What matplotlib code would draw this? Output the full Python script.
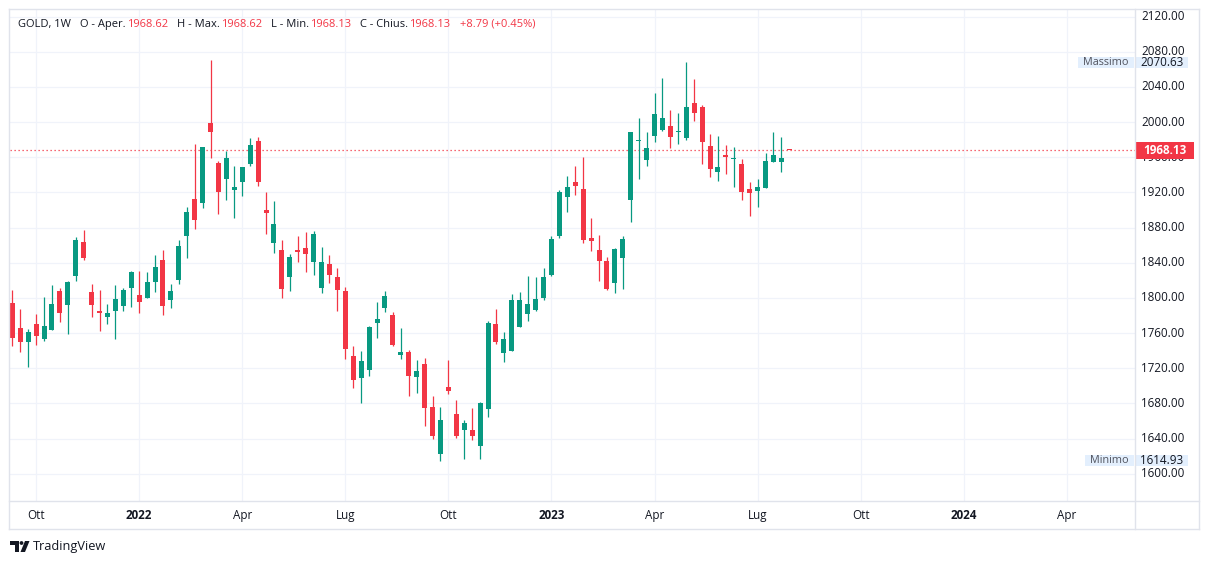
import numpy as np
import pandas as pd
import matplotlib
matplotlib.use("Agg")
import matplotlib.pyplot as plt
import matplotlib.transforms as mtransforms
from matplotlib.patches import Rectangle, Polygon, Circle
from matplotlib.lines import Line2D

plt.rcParams['font.family'] = ['Open Sans', 'DejaVu Sans']

# ---------------- data (weekly GOLD candles) ----------------
start_date = "2021-09-13"
opens = [1794.2, 1765.7, 1750.2, 1770.3, 1753.6, 1763.8, 1807.8, 1792.3, 1825.2, 1863.5,
         1806.7, 1785.1, 1778.6, 1785.4, 1791.1, 1811.6, 1803.3, 1800.2, 1818.4, 1843.0,
         1798.0, 1820.7, 1870.7, 1912.4, 1907.9, 1998.9, 1953.4, 1935.6, 1923.1, 1932.2,
         1952.6, 1978.4, 1899.9, 1862.8, 1854.4, 1824.1, 1854.8, 1856.7, 1841.2, 1811.6,
         1838.5, 1823.7, 1807.8, 1733.9, 1709.3, 1718.4, 1771.8, 1788.8, 1780.5, 1735.5,
         1738.5, 1710.5, 1724.9, 1676.0, 1623.1, 1698.7, 1668.1, 1650.3, 1649.9, 1632.1,
         1674.1, 1770.3, 1737.7, 1740.0, 1767.4, 1781.4, 1786.7, 1800.3, 1826.4, 1870.7,
         1915.0, 1932.0, 1924.1, 1868.4, 1854.8, 1842.3, 1817.3, 1845.7, 1911.7, 1978.8,
         1957.2, 1984.5, 1991.3, 1995.5, 1989.0, 1981.8, 2021.6, 2017.1, 1972.7, 1943.5,
         1962.5, 1957.5, 1952.2, 1923.8, 1921.9, 1925.3, 1954.9, 1954.9, 1968.62]
highs = [1808.9, 1787.3, 1764.2, 1781.6, 1801.0, 1814.6, 1810.8, 1819.2, 1869.2, 1877.2,
         1815.8, 1808.9, 1793.0, 1814.6, 1811.6, 1830.6, 1830.6, 1829.4, 1848.7, 1854.4,
         1815.8, 1865.8, 1903.3, 1975.0, 1971.6, 2070.63, 1955.3, 1967.0, 1950.0, 1948.8,
         1981.8, 1983.0, 1920.4, 1910.2, 1865.8, 1849.9, 1870.4, 1874.9, 1876.0, 1857.8,
         1848.7, 1834.0, 1812.4, 1745.3, 1739.6, 1767.6, 1795.2, 1807.7, 1783.9, 1766.1,
         1740.7, 1729.4, 1731.7, 1688.5, 1676.0, 1729.4, 1684.0, 1661.3, 1674.9, 1681.7,
         1773.7, 1787.3, 1761.2, 1804.3, 1807.1, 1825.3, 1824.2, 1834.4, 1870.3, 1922.5,
         1938.8, 1950.2, 1960.4, 1891.1, 1871.8, 1846.9, 1857.1, 1870.3, 1988.6, 2004.2,
         1988.6, 2033.0, 2050.0, 2013.7, 2010.2, 2068.2, 2048.9, 2019.3, 1986.4, 1984.1,
         1973.9, 1971.6, 1958.0, 1931.8, 1935.2, 1964.8, 1988.6, 1983.0, 1968.62]
lows = [1745.3, 1738.8, 1721.8, 1746.8, 1751.3, 1763.8, 1772.9, 1759.3, 1819.6, 1843.0,
        1778.6, 1762.7, 1770.6, 1753.6, 1785.4, 1790.0, 1783.2, 1800.2, 1807.0, 1780.9,
        1788.9, 1816.0, 1845.7, 1878.7, 1902.6, 1959.4, 1895.8, 1911.3, 1891.2, 1916.2,
        1950.3, 1927.6, 1873.0, 1851.4, 1800.2, 1808.2, 1840.8, 1829.4, 1826.0, 1805.9,
        1817.3, 1785.4, 1730.9, 1697.6, 1681.0, 1711.6, 1754.7, 1783.9, 1745.3, 1730.5,
        1688.9, 1692.3, 1654.9, 1640.1, 1614.93, 1691.2, 1641.2, 1617.4, 1639.0, 1617.4,
        1665.1, 1747.9, 1727.5, 1740.0, 1767.4, 1774.2, 1785.6, 1798.0, 1825.3, 1868.4,
        1897.9, 1917.2, 1862.7, 1853.7, 1819.6, 1809.4, 1806.0, 1810.5, 1886.7, 1935.6,
        1950.3, 1977.6, 1990.2, 1970.8, 1975.4, 1980.0, 2001.5, 1952.6, 1937.8, 1933.3,
        1941.2, 1926.5, 1911.7, 1893.5, 1903.7, 1925.3, 1954.9, 1943.5, 1968.13]
closes = [1754.7, 1750.2, 1761.2, 1757.0, 1768.0, 1793.0, 1783.2, 1818.0, 1865.8, 1845.7,
          1792.3, 1783.2, 1782.8, 1798.7, 1808.9, 1829.0, 1795.7, 1818.0, 1835.1, 1791.1,
          1807.8, 1859.0, 1897.6, 1888.9, 1971.6, 1989.0, 1920.8, 1959.1, 1926.1, 1948.8,
          1973.9, 1932.2, 1896.9, 1884.0, 1810.5, 1846.5, 1852.2, 1850.3, 1872.6, 1840.8,
          1826.4, 1809.3, 1742.2, 1707.1, 1728.3, 1766.9, 1775.9, 1802.0, 1746.4, 1738.5,
          1711.6, 1716.9, 1675.3, 1643.5, 1661.3, 1694.6, 1643.5, 1657.9, 1643.5, 1680.6,
          1771.4, 1750.2, 1753.2, 1797.5, 1798.0, 1793.5, 1799.2, 1824.2, 1867.3, 1920.6,
          1926.3, 1927.5, 1865.4, 1865.0, 1842.3, 1810.5, 1856.0, 1867.3, 1988.6, 1979.5,
          1970.1, 2009.1, 2004.6, 1983.3, 1989.8, 2017.1, 2010.6, 1977.6, 1946.9, 1948.8,
          1960.6, 1958.3, 1920.8, 1919.6, 1926.5, 1955.7, 1962.5, 1959.34, 1968.13]

price_ticks = [1600, 1640, 1680, 1720, 1760, 1800, 1840, 1880, 1920, 1960, 2000, 2040, 2080, 2120]
time_tick_months = ["2021-10", "2022-01", "2022-04", "2022-07", "2022-10", "2023-01",
                    "2023-04", "2023-07", "2023-10", "2024-01", "2024-04"]
time_tick_labels = ["Ott", "2022", "Apr", "Lug", "Ott", "2023", "Apr", "Lug", "Ott", "2024", "Apr"]

last_price = 1968.13
max_price = 2070.63
min_price = 1614.93
legend_groups = [("GOLD, 1W", ""), ("O - Aper.", "1968.62"), ("H - Max.", "1968.62"),
                 ("L - Min.", "1968.13"), ("C - Chius.", "1968.13"), ("", "+8.79 (+0.45%)")]

# ---------------- styling ----------------
GREEN = "#089981"
RED = "#F23645"
DARK = "#131722"
GRID = "#F0F3FA"
FRAME = "#E0E3EB"
LBLUE = "#E3EFFD"

W, H = 1209, 564
fig = plt.figure(figsize=(W / 100, H / 100), dpi=100)
fig.patch.set_facecolor("white")

pix = mtransforms.Affine2D().scale(1 / W, -1 / H).translate(0, 1) + fig.transFigure

ax = fig.add_axes([10 / W, 1 - 501 / H, 1125 / W, 491 / H])
ax.set_xlim(-0.29, 141.6)
ax.set_ylim(1569.1, 2127.4)
ax.set_facecolor("white")
for s in ax.spines.values():
    s.set_visible(False)
ax.set_xticks([])
ax.set_yticks([])

start = pd.Timestamp(start_date)
xs = np.arange(len(opens))
tick_pos = []
for m in time_tick_months:
    d = pd.Timestamp(m + "-01")
    while d.weekday() != 0:
        d += pd.Timedelta(days=1)
    tick_pos.append((d - start).days / 7)

for p in price_ticks:
    ax.axhline(p, color=GRID, lw=0.9, zorder=0)
for t in tick_pos:
    ax.axvline(t, color=GRID, lw=0.9, zorder=0)

o = np.array(opens); h = np.array(highs); l = np.array(lows); c = np.array(closes)
cols = np.where(c >= o, GREEN, RED)
ax.vlines(xs, l, h, colors=cols, lw=0.9, zorder=2)
body_bot = np.minimum(o, c)
body_h = np.maximum(np.abs(c - o), 1.2)
ax.bar(xs, body_h, bottom=body_bot, width=0.63, color=cols, linewidth=0, zorder=3)

ax.axhline(last_price, color=RED, lw=0.9, linestyle=(0, (1, 2.2)), zorder=1)

for (x0, y0, x1, y1) in [(9, 9, 1199, 9), (9, 529, 1199, 529), (9, 9, 9, 529), (1199, 9, 1199, 529),
                         (1135, 9, 1135, 529), (9, 501, 1199, 501)]:
    fig.add_artist(Line2D([x0, x1], [y0, y1], transform=pix, color=FRAME, lw=1.0))

trans = mtransforms.blended_transform_factory(fig.transFigure, ax.transData)
px_per_price = 491 / (2127.4 - 1569.1)

for p in price_ticks:
    ax.text(1141 / W, p, f"{p:.2f}", transform=trans, ha="left", va="center",
            fontsize=8.4, color=DARK, clip_on=False, zorder=1)

bh = 17 / px_per_price
ax.add_patch(Rectangle((1135 / W, last_price - bh / 2), 59 / W, bh, transform=trans,
                       facecolor=RED, edgecolor="none", clip_on=False, zorder=5))
ax.text(1164.5 / W, last_price, f"{last_price:.2f}", transform=trans, ha="center", va="center",
        fontsize=8.4, color="white", fontweight="bold", clip_on=False, zorder=6)

lh = 11.5 / px_per_price
for val, name, x_name in [(max_price, "Massimo", 1078), (min_price, "Minimo", 1085)]:
    yc = val - 2.5 / px_per_price if name == "Massimo" else val
    ax.add_patch(Rectangle((x_name / W, yc - lh / 2), (1134 - x_name) / W, lh, transform=trans,
                           facecolor=LBLUE, edgecolor="none", clip_on=False, zorder=5))
    ax.add_patch(Rectangle((1136 / W, yc - lh / 2), 52 / W, lh, transform=trans,
                           facecolor=LBLUE, edgecolor="none", clip_on=False, zorder=5))
    ax.text((x_name + 1134) / 2 / W, yc, name, transform=trans, ha="center", va="center",
            fontsize=7.8, color="#50535E", clip_on=False, zorder=6)
    ax.text(1162 / W, yc, f"{val:.2f}", transform=trans, ha="center", va="center",
            fontsize=8.4, color=DARK, clip_on=False, zorder=6)

ttrans = mtransforms.blended_transform_factory(ax.transData, fig.transFigure)
for t, lab in zip(tick_pos, time_tick_labels):
    ax.text(t, 1 - 515.5 / H, lab, transform=ttrans, ha="center", va="center",
            fontsize=8.4, color=DARK, fontweight="bold" if lab.isdigit() else "normal",
            clip_on=False)

# legend header laid out sequentially using measured text widths
renderer = fig.canvas.get_renderer()
xcur = 18.0
hy = 1 - 24.5 / H
for gi, (lab, val) in enumerate(legend_groups):
    for txt, col in [(lab, DARK), (val, RED)]:
        if not txt:
            continue
        t = fig.text(xcur / W, hy, txt, ha="left", va="center", fontsize=8.0, color=col)
        bb = t.get_window_extent(renderer=renderer)
        xcur += bb.width + 0.8
    xcur += 8.5

# TradingView logo
fig.add_artist(Polygon([[10, 541], [18.5, 541], [18.5, 552], [14.5, 552], [14.5, 545], [10, 545]],
                       closed=True, transform=pix, facecolor=DARK, edgecolor="none"))
fig.add_artist(Circle((21.5, 543), 1.9, transform=pix, facecolor=DARK, edgecolor="none"))
fig.add_artist(Polygon([[25, 541], [29.5, 541], [25, 552], [20.5, 552]],
                       closed=True, transform=pix, facecolor=DARK, edgecolor="none"))
fig.text(33 / W, 1 - 546.5 / H, "TradingView", ha="left", va="center", fontsize=9.2, color=DARK)

fig.savefig("out.png", dpi=100, facecolor="white")
